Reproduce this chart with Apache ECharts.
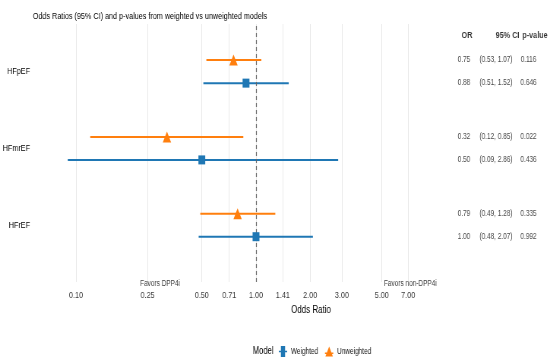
<!DOCTYPE html>
<html>
<head>
<meta charset="utf-8">
<script src="https://cdn.jsdelivr.net/npm/echarts@6/dist/echarts.min.js"></script>
<style>
html,body{margin:0;padding:0;background:#fff;overflow:hidden;}
#wrap{width:550px;height:359px;overflow:hidden;}
#chart{width:724px;height:359px;transform:scaleX(0.75967);transform-origin:0 0;}
</style>
</head>
<body>
<div id="wrap"><div id="chart"></div></div>
<script>
// ---- data ----
const groups = ['HFrEF', 'HFmrEF', 'HFpEF'];          // y = 1, 2, 3
const weightedOR = [1.00, 0.50, 0.88];
const weightedLo = [0.48, 0.09, 0.51];
const weightedHi = [2.07, 2.86, 1.52];
const weightedP  = [0.992, 0.436, 0.646];
const unweightedOR = [0.79, 0.32, 0.75];
const unweightedLo = [0.49, 0.12, 0.53];
const unweightedHi = [1.28, 0.85, 1.07];
const unweightedP  = [0.335, 0.022, 0.116];
const xTicks = [0.10, 0.25, 0.50, 0.71, 1.00, 1.41, 2.00, 3.00, 5.00, 7.00];
const tableHeaders = ['OR', '95% CI', 'p-value'];
const favorLeft = 'Favors DPP4i';
const favorRight = 'Favors non-DPP4i';

// ---- layout helpers (the picture is horizontally condensed) ----
const S = 550 / 724;
const X = d => d / S;      // display px -> internal px
const FONT = '"Liberation Sans", Arial, sans-serif';
const dodge = 0.15;
const BLUE = '#1f77b4', ORANGE = '#ff7f0e';
const yW = groups.map((g, i) => i + 1 - dodge);
const yU = groups.map((g, i) => i + 1 + dodge);

function ciSeries(name, lo, hi, ys, color) {
  return {
    type: 'custom', name: name, xAxisIndex: 0, yAxisIndex: 0, silent: true, clip: false,
    data: lo.map((l, i) => [l, hi[i], ys[i]]),
    renderItem: function (params, api) {
      const a = api.coord([api.value(0), api.value(2)]);
      const b = api.coord([api.value(1), api.value(2)]);
      return { type: 'line', shape: { x1: a[0], y1: a[1], x2: b[0], y2: b[1] },
               style: { stroke: color, lineWidth: 2 } };
    },
    z: 3
  };
}

const tableData = [];
groups.forEach((g, i) => {
  tableData.push([0, yU[i], unweightedOR[i].toFixed(2)]);
  tableData.push([1, yU[i], '(' + unweightedLo[i].toFixed(2) + ', ' + unweightedHi[i].toFixed(2) + ')']);
  tableData.push([2, yU[i], unweightedP[i].toFixed(3)]);
  tableData.push([0, yW[i], weightedOR[i].toFixed(2)]);
  tableData.push([1, yW[i], '(' + weightedLo[i].toFixed(2) + ', ' + weightedHi[i].toFixed(2) + ')']);
  tableData.push([2, yW[i], weightedP[i].toFixed(3)]);
});
const headerY = 3.478;
const valueOffsets = [X(1.5), X(-1.5), X(-4)];
const headerOffsets = [X(4.5), X(10), X(2.5)];

const yAxisBase = { type: 'value', min: 0.26, max: 3.62, axisLine: { show: false },
  axisTick: { show: false }, splitLine: { show: false } };

const chart = echarts.init(document.getElementById('chart'), null, { renderer: 'canvas' });
chart.setOption({
  animation: false,
  textStyle: { fontFamily: FONT },
  title: [
    { text: 'Odds Ratios (95% CI) and p-values from weighted vs unweighted models',
      left: X(29), top: 6, textStyle: { fontSize: 9.5, fontWeight: 'normal', color: '#000', fontFamily: FONT } },
    { text: 'Model', left: X(249), top: 341, textStyle: { fontSize: 10, fontWeight: 'normal', color: '#000', fontFamily: FONT } }
  ],
  legend: {
    left: X(275), top: 341, itemWidth: 11, itemHeight: 11, itemGap: 9,
    textStyle: { fontSize: 8.5, color: '#111', fontFamily: FONT },
    data: [
      { name: 'Weighted', icon: 'path://M0,4.3 L2.5,4.3 L2.5,0 L7.5,0 L7.5,4.3 L10,4.3 L10,5.7 L7.5,5.7 L7.5,10 L2.5,10 L2.5,5.7 L0,5.7 Z', itemStyle: { color: BLUE } },
      { name: 'Unweighted', icon: 'path://M5,0 L9.5,9 L0.5,9 Z M0,5.3 L10,5.3 L10,6.7 L0,6.7 Z', itemStyle: { color: ORANGE } }
    ]
  },
  grid: [
    { left: X(76), right: X(550 - 436), top: 24, bottom: 77 },
    { left: X(445), right: 0, top: 24, bottom: 77 }
  ],
  xAxis: [
    { type: 'log', min: 0.1, max: 10, gridIndex: 0,
      name: 'Odds Ratio', nameLocation: 'middle', nameGap: 22,
      nameTextStyle: { fontSize: 10.5, color: '#000', padding: [0, 0, 0, X(110)], fontFamily: FONT },
      axisLine: { show: false },
      axisTick: { show: false, customValues: xTicks },
      axisLabel: { customValues: xTicks, fontSize: 9.5, color: '#3a3a3a', margin: 8,
                   formatter: v => Number(v).toFixed(2) },
      splitLine: { show: true, lineStyle: { color: '#e8e8e8', width: 1 } },
      minorSplitLine: { show: false } },
    { type: 'category', gridIndex: 1, data: tableHeaders, show: false }
  ],
  yAxis: [
    Object.assign({}, yAxisBase, { gridIndex: 0,
      axisLabel: { customValues: [1, 2, 3], fontSize: 9.5, color: '#000', margin: X(46),
                   formatter: v => groups[Math.round(v) - 1] } }),
    Object.assign({}, yAxisBase, { gridIndex: 1, show: false })
  ],
  series: [
    ciSeries('WeightedCI', weightedLo, weightedHi, yW, BLUE),
    ciSeries('UnweightedCI', unweightedLo, unweightedHi, yU, ORANGE),
    { type: 'scatter', name: 'Weighted', symbol: 'rect', symbolSize: [9, 9],
      itemStyle: { color: BLUE, opacity: 1 }, z: 5,
      data: weightedOR.map((v, i) => [v, yW[i]]),
      markLine: { silent: true, symbol: 'none', label: { show: false },
        lineStyle: { color: '#666', type: [4, 3], width: 1.2 },
        data: [{ xAxis: 1 }] } },
    { type: 'scatter', name: 'Unweighted', symbol: 'triangle', symbolSize: [11, 11],
      itemStyle: { color: ORANGE, opacity: 1 }, z: 5,
      data: unweightedOR.map((v, i) => [v, yU[i]]) },
    { type: 'scatter', name: 'annot', symbolSize: 0, clip: false, silent: true,
      data: [[0.293, 0.244, favorLeft], [7.2, 0.244, favorRight]],
      label: { show: true, position: 'inside', formatter: p => p.data[2],
               fontSize: 8.5, color: '#000', fontFamily: FONT } },
    { type: 'scatter', name: 'table', xAxisIndex: 1, yAxisIndex: 1, symbolSize: 0, silent: true, clip: false,
      data: tableData,
      label: { show: true, position: 'inside', fontSize: 8.5, color: '#111', fontFamily: FONT,
               formatter: p => p.data[2] },
      labelLayout: p => ({ dx: valueOffsets[tableData[p.dataIndex][0]] }) },
    { type: 'scatter', name: 'tableHead', xAxisIndex: 1, yAxisIndex: 1, symbolSize: 0, silent: true, clip: false,
      data: tableHeaders.map((h, i) => [i, headerY, h]),
      label: { show: true, position: 'inside', formatter: p => p.data[2],
               fontSize: 9.5, fontWeight: 'bold', color: '#000', fontFamily: FONT },
      labelLayout: p => ({ dx: headerOffsets[p.dataIndex] }) }
  ]
});
</script>
</body>
</html>
